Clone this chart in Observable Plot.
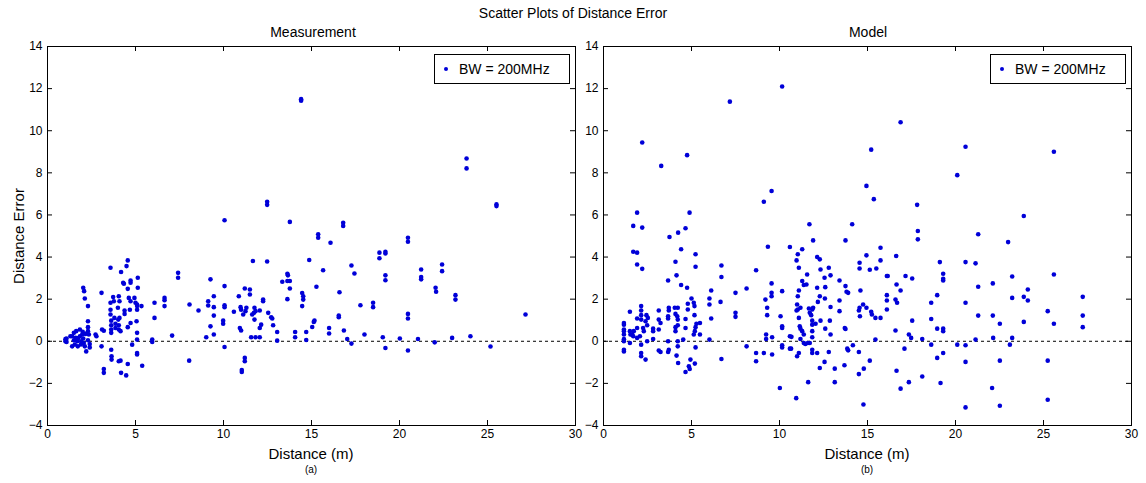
<!DOCTYPE html>
<html><head><meta charset="utf-8">
<script src="https://cdn.jsdelivr.net/npm/d3@7"></script>
<script src="https://cdn.jsdelivr.net/npm/@observablehq/plot@0.6"></script>
<style>
body{margin:0;background:#fff;font-family:"Liberation Sans",Arial,sans-serif;}
#wrap{position:relative;width:1146px;height:483px;overflow:hidden;background:#fff}
#wrap svg{position:absolute;top:0;overflow:visible}
.t{position:absolute;white-space:nowrap;color:#000;transform:translate(-50%,-50%);line-height:1}
.legend{position:absolute;border:1px solid #000;background:#fff;box-sizing:border-box;font-size:14px;height:30px;width:136px}
.legend .dot{position:absolute;left:9px;top:12px;width:4px;height:4px;border-radius:50%;background:#0000d8}
.legend .lab{position:absolute;left:24px;top:7px;line-height:1}
</style></head><body><div id="wrap"></div>
<script>
const mainTitle = "Scatter Plots of Distance Error";
const panelTitles = ["Measurement", "Model"];
const panelTags = ["(a)", "(b)"];
const xLabel = "Distance (m)";
const yLabel = "Distance Error";
const legendLabel = "BW = 200MHz";
const xTicks = [0, 5, 10, 15, 20, 25, 30];
const yTicks = [-4, -2, 0, 2, 4, 6, 8, 10, 12, 14];

const measurement = [
[1.02,0.1],[1.02,0],[1.08,0.13],[1.08,-0.03],[1.3,0.24],[1.4,0.24],[1.4,-0.24],[1.5,0.4],[1.5,0.05],[1.55,-0.15],[1.6,0.16],[1.63,0.48],[1.69,0],[1.72,-0.24],[1.75,0.15],[1.84,0.56],[1.84,0.24],[1.9,-0.15],[1.91,0],[1.97,0.32],[2.0,0.45],[2.03,0.13],[2.06,-0.08],[2.12,-0.24],[2.16,0.35],[2.2,-0.48],[2.3,0.05],
[2.03,2.54],[2.08,2.38],[2.12,2.03],[2.3,1.67],[2.3,0.95],[2.3,0.67],[2.3,0.48],[2.35,0.32],[2.4,-0.13],[2.4,-0.29],
[2.73,0.32],[2.78,0.24],[3.07,2.3],[3.07,-0.24],[3.1,0.56],[3.2,0.5],[3.2,-1.32],[3.2,-1.5],
[3.58,3.49],[3.58,1.83],[3.58,1.5],[3.58,1.27],[3.62,0.98],[3.62,0.76],[3.62,0.56],[3.62,0.4],[3.62,-0.4],[3.64,-0.71],[3.64,-0.87],
[3.73,2.1],[3.77,1.9],[3.86,0.83],[3.86,0.63],[3.8,1.11],
[4.05,2.14],[4.09,1.9],[4.0,1.59],[4.02,1.03],[4.05,0.76],[4.05,0.56],[4.09,1.11],[4.15,0.48],[4.05,-0.95],[4.15,-0.92],
[4.18,3.29],[4.18,-1.5],[4.3,2.78],[4.34,2.73],[4.38,1.46],[4.38,1.3],[4.47,-1.62],
[4.49,3.57],[4.56,3.84],[4.56,2.49],[4.56,0.67],[4.56,-1.08],
[4.62,2.06],[4.72,1.9],[4.72,2.89],[4.72,2.78],[4.68,1.5],[4.72,0.87],[4.81,-0.16],
[4.94,2.06],[5.0,1.83],[5.09,1.75],[5.09,1.5],[5.06,0.95],[5.13,3.02],[5.13,2.54],[5.09,1.67],[5.09,0.4],[5.09,0.08],[5.09,-0.56],[5.09,-0.63],[5.34,1.67],[5.38,-1.16],
[5.95,0.08],[5.95,-0.03],[6.08,1.83],[6.08,1.11],[6.65,2.06],[6.65,1.95],[6.65,1.67],[7.08,0.27],[7.42,3.25],[7.42,3.02],[8.05,-0.92],[8.07,1.75],[8.58,1.46],
[9.02,0.19],[9.13,1.9],[9.13,1.7],[9.26,2.94],[9.26,0.71],[9.45,2.14],[9.45,1.62],[9.45,1.22],[9.45,0.32],
[10.06,5.75],[10.06,2.62],[10.06,1.71],[10.06,1.62],[9.98,0.98],[9.98,0.83],[10.06,-0.27],[10.59,1.4],[10.87,2.14],[10.97,1.62],[11.0,1.5],[10.93,0.63],[11.0,0.51],
[11.21,2.51],[11.12,1.27],[11.25,1.43],[11.3,1.59],[11.21,-0.79],[11.21,-0.95],[11.04,-1.37],[11.04,-1.46],[11.5,2.46],[11.5,2.22],[11.57,0.19],[11.67,3.81],[11.63,1.27],[11.73,1.35],[11.76,1.59],[11.76,1.03],[11.82,0.19],[11.82,1.43],
[12.06,0.19],[12.06,1.46],[12.06,0.63],[12.14,0.79],[12.25,1.98],[12.25,1.9],[12.48,6.63],[12.48,6.48],[12.48,3.79],[12.54,1.35],[12.71,1.14],[12.77,1.08],[12.82,0.76],[13.05,0.44],[13.05,0.03],
[13.34,2.83],[13.63,3.21],[13.66,3.13],[13.63,2.86],[13.77,2.86],[13.77,2.51],[13.63,2.0],[13.77,5.67],[14.07,0.44],[14.07,0.19],[14.41,11.5],[14.41,11.42],
[14.47,2.29],[14.53,2.14],[14.53,1.98],[14.47,1.67],[14.7,0.44],[14.7,0.06],[14.87,3.86],[15.04,0.68],[15.13,0.92],[15.17,0.98],[15.28,2.59],[15.38,5.08],[15.38,4.92],[15.66,3.37],
[16.0,0.63],[16.0,0.37],[16.08,4.68],[16.55,1.22],[16.55,1.14],[16.59,2.33],[16.8,5.63],[16.8,5.48],[16.84,0.51],[17.03,0.11],[17.27,-0.11],[17.27,3.6],[17.44,3.22],[17.78,1.71],
[18.01,0.32],[18.5,1.83],[18.5,1.62],[18.86,4.21],[18.86,3.94],[19.2,4.25],[19.2,4.17],[19.2,3.13],[19.2,2.9],[19.05,0.19],[19.2,-0.32],[20.02,0.13],
[20.48,4.92],[20.48,4.73],[20.48,1.3],[20.48,1.08],[20.48,-0.44],[21.05,0.11],[21.23,3.41],[21.23,3.05],[21.23,2.94],[22.05,2.54],[22.08,2.35],[22.0,-0.05],[22.42,3.65],[22.42,3.33],
[22.99,0.16],[23.18,2.19],[23.18,1.98],[23.81,8.68],[23.81,8.21],[24.03,0.24],[25.17,-0.25],[25.51,6.5],[25.51,6.42],[27.16,1.27]
];

const model = [
[1.16,0.87],[1.16,0.79],[1.16,0.56],[1.16,0.48],[1.16,0.32],[1.16,0.1],[1.16,0],[1.16,-0.4],[1.16,-0.48],
[1.5,1.4],[1.5,0.48],[1.53,0.32],[1.5,-0.08],[1.63,0.32],[1.72,0.48],[1.69,0.24],
[1.91,1.08],[1.91,0.63],[1.91,0.16],[1.91,6.11],[1.69,5.48],[1.69,4.25],[1.91,4.21],[1.91,3.65],
[2.07,0.24],[2.14,-0.16],[2.14,1.24],[2.14,1.03],[2.14,1.67],[2.14,1.46],[2.2,9.44],[2.2,5.4],[2.2,3.44],[2.14,-0.56],[2.14,-0.71],[2.39,-0.87],
[2.25,0.63],[2.29,0.48],[2.39,0.95],[2.44,1.24],[2.48,0],[2.52,1.11],[2.48,0.76],[2.82,0.6],[2.82,0.48],[2.82,0.11],
[3.14,1.46],[3.14,1.03],[3.14,0.56],[3.24,0.87],[3.14,-0.44],[3.24,-0.51],[3.28,8.33],
[3.67,2.89],[3.67,1.19],[3.67,1.08],[3.71,1.59],[3.71,1.46],[3.75,4.95],[3.67,0],[3.71,-0.4],[3.67,-0.51],
[4.09,3.78],[4.15,3.13],[4.05,1.59],[4.09,1.3],[4.19,1.19],[4.22,1.59],[4.22,1.03],[4.22,0.76],[4.09,0.67],[4.09,0.48],[4.22,0],[4.22,-0.24],[4.15,-0.68],[4.24,-1.03],[4.24,5.16],
[4.41,2.67],[4.41,4.37],[4.53,0.08],[4.66,5.37],[4.66,1.06],[4.66,0.63],[4.66,-1.46],[4.75,2.54],[4.79,1.78],[4.79,1.51],[4.75,8.84],[4.89,6.11],[4.85,-1.19],[4.9,-1.32],[4.94,-0.87],
[5.0,2.03],[5.13,1.83],[5.17,1.67],[5.17,1.24],[5.23,0.67],[5.19,0.48],[5.13,0.32],[5.23,-0.29],[5.19,-1.06],[5.23,4.13],[5.23,3.54],[5.28,0.83],[5.48,0.87],[5.48,0.32],
[6.02,2.03],[6.02,1.75],[6.12,2.41],[6.12,1.08],[6.02,0.08],[6.7,3.6],[6.7,3.05],[6.65,1.87],[6.7,-0.84],[7.18,11.38],
[7.5,2.3],[7.5,1.35],[7.5,1.16],[8.13,2.51],[8.13,-0.24],[8.67,3.37],[8.67,-0.56],[8.67,-0.95],
[9.11,6.63],[9.11,-0.56],[9.2,1.98],[9.3,1.59],[9.3,1.24],[9.24,0.32],[9.24,0.11],[9.34,4.49],
[9.55,7.14],[9.55,2.75],[9.55,2.3],[9.55,2.14],[9.58,0.19],[9.58,-0.63],
[10.15,12.1],[10.15,2.38],[10.06,1.19],[10.15,0.71],[10.15,0.63],[10.15,-0.19],[10.15,-0.29],[10.02,-2.22],[10.59,4.48],[10.59,0.24],[10.59,-0.35],
[10.68,0.21],[10.97,3.84],[11.04,4.13],[11.29,4.37],[11.1,3.49],[11.57,3.17],[11.7,5.56],[11.91,4.79],[11.29,2.86],[11.38,2.67],[11.53,2.7],[11.1,2.41],[11.04,2.14],
[12.14,4.0],[12.29,3.89],[12.33,3.41],[12.56,3.02],[12.8,3.49],[12.9,3.13],[12.14,2.54],[12.29,2.14],[12.18,1.87],[12.6,2.57],[12.58,2.03],[12.9,1.63],
[11.0,1.75],[11.04,1.51],[11.19,1.59],[11.1,1.11],[10.97,1.46],[11.15,0.71],[11.19,0.6],[11.29,0.48],[11.38,0.32],[11.67,1.56],[11.72,1.35],[11.8,1.24],[11.86,1.51],[11.91,1.59],
[11.86,0.98],[11.86,0.79],[12.05,0.83],[12.33,0.98],[11.86,0.48],[11.86,0.19],[11.19,0.11],[11.38,-0.08],[11.47,-0.13],[11.61,-0.08],[11.72,-0.08],[10.66,-0.35],[11.1,-0.56],[11.0,-0.71],
[11.86,-0.4],[11.86,-0.56],[12.14,-0.56],[12.29,-1.27],[12.56,-0.98],[12.8,-0.51],[13.14,-1.3],[13.14,-1.94],[11.63,-1.94],[10.95,-2.7],[12.6,0.6],[12.9,0.32],[12.86,0.98],
[13.41,2.89],[13.41,1.94],[13.41,1.43],[13.75,4.79],[13.75,2.62],[13.81,2.35],[13.9,2.3],[13.71,0.63],[13.75,0.58],[13.85,-0.35],[13.9,-0.43],[14.13,5.56],[14.17,-0.19],[13.69,-1.14],
[14.51,-0.51],[14.51,-1.56],[14.79,-1.3],[15.13,-0.92],[14.55,3.46],[14.55,3.73],[14.6,2.41],[14.55,1.59],[14.51,1.46],[14.75,1.75],[14.94,1.59],[14.57,1.19],[14.94,7.38],[14.94,4.08],
[15.13,3.4],[15.5,3.46],[15.74,3.84],[15.74,4.44],[15.21,1.4],[15.25,1.27],[15.36,6.75],[15.21,9.1],[15.45,1.11],[15.45,0.08],[15.74,1.11],[14.77,-3.0],
[16.1,3.1],[16.15,3.1],[16.1,2.19],[16.1,1.94],[16.1,1.51],[16.63,4.05],[16.65,2.7],[16.68,1.83],[16.59,1.98],[16.88,2.41],[16.88,10.4],[16.59,0.51],[16.65,-1.4],[16.88,-2.25],
[17.1,-0.35],[17.35,-1.94],[17.16,3.1],[17.35,0.32],[17.48,0.16],[17.54,2.98],[17.54,0.98],[17.82,6.48],[17.86,5.24],[17.86,4.84],[18.11,0.11],[18.11,-1.67],
[18.62,-0.16],[18.62,1.06],[18.62,1.83],[18.96,2.19],[18.96,0.6],[18.96,-0.79],[19.11,3.76],[19.15,-1.98],[19.3,3.21],[19.3,2.97],[19.3,2.89],[19.3,0.6],[19.3,0.48],[19.3,-0.56],
[20.1,7.89],[20.1,-0.16],[20.57,9.24],[20.57,3.76],[20.57,1.83],[20.57,-0.19],[20.57,-0.98],[20.57,-3.14],[21.14,3.7],[21.14,0.08],[21.29,5.08],[21.29,2.59],[21.29,1.22],
[22.12,2.75],[22.12,1.22],[22.14,0.16],[22.08,-2.22],[22.52,0.83],[22.52,-0.92],[22.52,-3.06],[22.99,4.71],[23.22,3.08],[23.22,2.06],[23.09,-0.16],[23.22,0.16],
[23.88,5.95],[23.88,2.11],[23.88,0.92],[24.11,2.46],[24.11,1.94],[25.24,1.43],[25.24,-0.92],[25.24,-2.78],[25.59,9.0],[25.59,3.17],[25.59,0.83],[27.23,2.11],[27.23,1.22],[27.23,0.67]
];

const FONT = '"Liberation Sans", Arial, sans-serif';
const wrap = document.getElementById("wrap");

function panel(data, width, ml, mr, left) {
  const H = 483, mt = 46, mb = 58;
  const fh = H - mt - mb, fw = width - ml - mr;
  const svg = Plot.plot({
    width, height: H, marginTop: mt, marginBottom: mb, marginLeft: ml, marginRight: mr,
    style: {fontFamily: FONT, fontSize: "12px", background: "transparent", color: "#000", overflow: "visible"},
    x: {domain: [0, 30], label: null},
    y: {domain: [-4, 14], label: null},
    marks: [
      Plot.ruleY([0], {stroke: "#000", strokeDasharray: "3,3", strokeWidth: 1}),
      Plot.dot(data, {x: d => d[0], y: d => d[1], r: 2.3, fill: "#0000d8", stroke: null}),
      Plot.ruleX(xTicks, {stroke: "#000", insetTop: fh - 5}),
      Plot.ruleX(xTicks, {stroke: "#000", insetBottom: fh - 5}),
      Plot.ruleY(yTicks, {stroke: "#000", insetRight: fw - 5}),
      Plot.ruleY(yTicks, {stroke: "#000", insetLeft: fw - 5}),
      Plot.frame({stroke: "#000"}),
      Plot.axisX({ticks: xTicks, tickSize: 0, tickPadding: 4, label: null, fontSize: 12}),
      Plot.axisY({ticks: yTicks, tickSize: 0, tickPadding: 5, label: null, fontSize: 12})
    ]
  });
  svg.style.left = left + "px";
  wrap.appendChild(svg);
}

panel(model, 566, 23, 15, 580);
panel(measurement, 592, 47, 17, 0);

function txt(s, x, y, size, rot) {
  const d = document.createElement("div");
  d.className = "t";
  d.textContent = s;
  d.style.left = x + "px";
  d.style.top = y + "px";
  d.style.fontSize = size + "px";
  if (rot) d.style.transform = "translate(-50%,-50%) rotate(-90deg)";
  wrap.appendChild(d);
}
function legend(x, y) {
  const d = document.createElement("div");
  d.className = "legend";
  d.style.left = x + "px";
  d.style.top = y + "px";
  const dot = document.createElement("div"); dot.className = "dot";
  const lab = document.createElement("div"); lab.className = "lab"; lab.textContent = legendLabel;
  d.appendChild(dot); d.appendChild(lab);
  wrap.appendChild(d);
}

txt(mainTitle, 573, 13, 14);
txt(panelTitles[0], 313, 32, 14);
txt(panelTitles[1], 868, 32, 14);
txt(xLabel, 311, 453, 15);
txt(xLabel, 867, 453, 15);
txt(panelTags[0], 311, 470, 10);
txt(panelTags[1], 867, 470, 10);
txt(yLabel, 18, 236, 15, true);
legend(434, 54);
legend(990, 54);
</script></body></html>
